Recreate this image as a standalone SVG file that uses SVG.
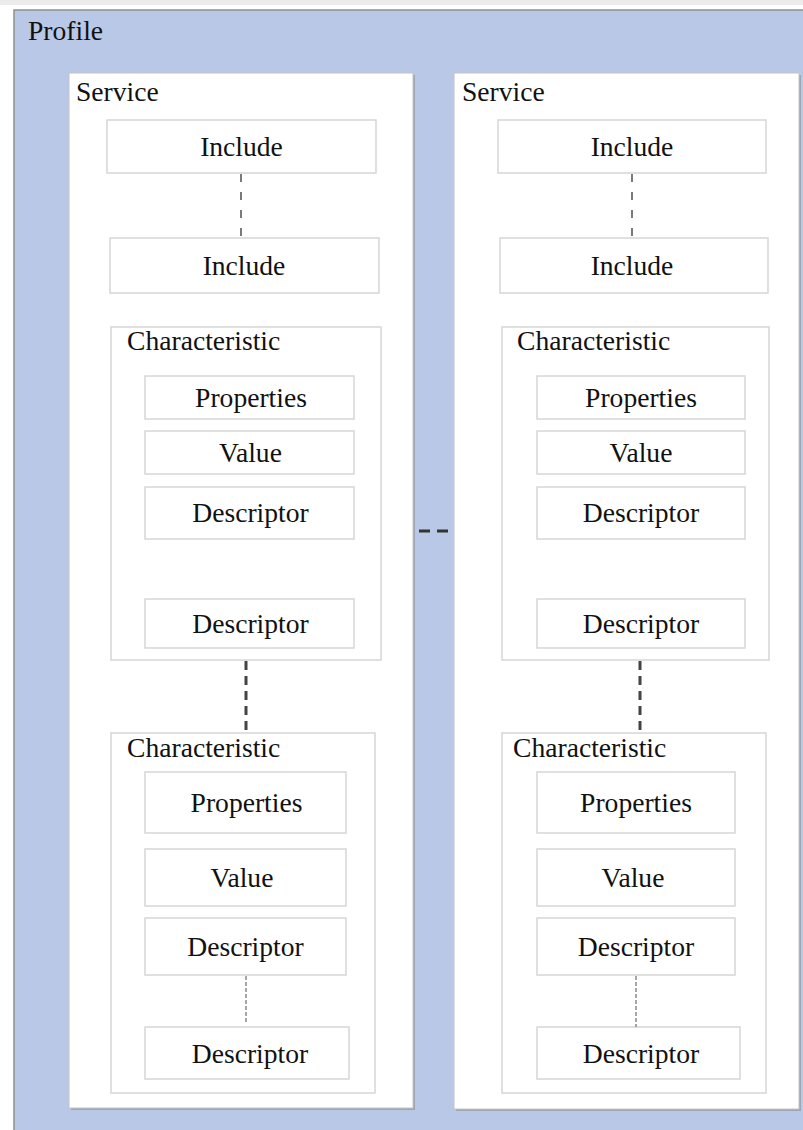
<svg xmlns="http://www.w3.org/2000/svg" width="803" height="1130" viewBox="0 0 803 1130">
  <style>
    text { font-size: 27.6px; fill: #111; }
    .c { text-anchor: middle; }
    .profile { fill: #b8c8e6; stroke: #8e8e8e; stroke-width: 1.5; }
    .svc { fill: #ffffff; stroke: #c4c4c4; stroke-width: 1; }
    .shadow { fill: #9ea6b4; }
    .box { fill: #ffffff; stroke: #d6d6d6; stroke-width: 1.5; }
    .inc { stroke: #7a7a7a; stroke-width: 2; stroke-dasharray: 8 10; fill: none; }
    .chr { stroke: #444; stroke-width: 3; stroke-dasharray: 9 6; fill: none; }
    .svcl { stroke: #333; stroke-width: 3; stroke-dasharray: 11 7; fill: none; }
    .dsc { stroke: #888; stroke-width: 1.5; stroke-dasharray: 4 2; fill: none; }
  </style>

  <rect x="0" y="0" width="803" height="1130" fill="#ffffff"/>
  <rect x="0" y="0" width="803" height="5" fill="#ececec"/>

  <g font-family="'Liberation Serif', 'Times New Roman', serif">
  <g id="profile">
    <rect class="profile" x="14" y="10" width="800" height="1130"/>
    <text x="28" y="40">Profile</text>
  </g>

  <!-- left service -->
  <g id="service-left">
    <rect class="shadow" x="71" y="75" width="344" height="1035"/>
    <rect class="svc" x="69" y="73" width="344" height="1035"/>
    <text x="76" y="101">Service</text>
  </g>
  <g id="include-left-1">
    <rect class="box" x="107" y="120" width="269" height="53"/>
    <text class="c" x="241.5" y="156">Include</text>
  </g>
  <g id="include-left-2">
    <rect class="box" x="110" y="238" width="269" height="55"/>
    <text class="c" x="244" y="275">Include</text>
  </g>
  <g id="char-left-1">
    <rect class="box" x="111" y="327" width="270" height="333"/>
    <text x="127" y="350">Characteristic</text>
  </g>
  <g id="prop-left-1">
    <rect class="box" x="145" y="376" width="209" height="43"/>
    <text class="c" x="251" y="406.5">Properties</text>
  </g>
  <g id="value-left-1">
    <rect class="box" x="145" y="431" width="209" height="43"/>
    <text class="c" x="250.5" y="462">Value</text>
  </g>
  <g id="desc-left-1a">
    <rect class="box" x="145" y="487" width="209" height="52"/>
    <text class="c" x="250.5" y="522">Descriptor</text>
  </g>
  <g id="desc-left-1b">
    <rect class="box" x="145" y="599" width="209" height="49"/>
    <text class="c" x="250.5" y="633">Descriptor</text>
  </g>
  <g id="char-left-2">
    <rect class="box" x="111" y="733" width="264" height="360"/>
    <text x="127" y="757">Characteristic</text>
  </g>
  <g id="prop-left-2">
    <rect class="box" x="145" y="772" width="201" height="61"/>
    <text class="c" x="246.5" y="811.5">Properties</text>
  </g>
  <g id="value-left-2">
    <rect class="box" x="145" y="849" width="201" height="57"/>
    <text class="c" x="242" y="886.5">Value</text>
  </g>
  <g id="desc-left-2a">
    <rect class="box" x="145" y="918" width="201" height="57"/>
    <text class="c" x="245.5" y="956">Descriptor</text>
  </g>
  <g id="desc-left-2b">
    <rect class="box" x="145" y="1027" width="204" height="52"/>
    <text class="c" x="250" y="1062.5">Descriptor</text>
  </g>

  <!-- right service -->
  <g id="service-right">
    <rect class="shadow" x="456" y="75" width="345" height="1036"/>
    <rect class="svc" x="454" y="73" width="345" height="1036"/>
    <text x="462" y="101">Service</text>
  </g>
  <g id="include-right-1">
    <rect class="box" x="498" y="120" width="268" height="53"/>
    <text class="c" x="632" y="156">Include</text>
  </g>
  <g id="include-right-2">
    <rect class="box" x="500" y="238" width="268" height="55"/>
    <text class="c" x="632" y="275">Include</text>
  </g>
  <g id="char-right-1">
    <rect class="box" x="502" y="327" width="267" height="333"/>
    <text x="517" y="350">Characteristic</text>
  </g>
  <g id="prop-right-1">
    <rect class="box" x="537" y="376" width="208" height="43"/>
    <text class="c" x="641" y="406.5">Properties</text>
  </g>
  <g id="value-right-1">
    <rect class="box" x="537" y="431" width="208" height="43"/>
    <text class="c" x="641" y="462">Value</text>
  </g>
  <g id="desc-right-1a">
    <rect class="box" x="537" y="487" width="208" height="52"/>
    <text class="c" x="641" y="522">Descriptor</text>
  </g>
  <g id="desc-right-1b">
    <rect class="box" x="537" y="599" width="208" height="49"/>
    <text class="c" x="641" y="633">Descriptor</text>
  </g>
  <g id="char-right-2">
    <rect class="box" x="502" y="733" width="264" height="360"/>
    <text x="513" y="757">Characteristic</text>
  </g>
  <g id="prop-right-2">
    <rect class="box" x="537" y="772" width="198" height="61"/>
    <text class="c" x="636" y="811.5">Properties</text>
  </g>
  <g id="value-right-2">
    <rect class="box" x="537" y="849" width="198" height="57"/>
    <text class="c" x="633" y="886.5">Value</text>
  </g>
  <g id="desc-right-2a">
    <rect class="box" x="537" y="918" width="198" height="57"/>
    <text class="c" x="636" y="956">Descriptor</text>
  </g>
  <g id="desc-right-2b">
    <rect class="box" x="537" y="1027" width="203" height="52"/>
    <text class="c" x="641" y="1062.5">Descriptor</text>
  </g>
  </g>

  <g id="connectors">
    <line class="inc" x1="241" y1="174" x2="241" y2="238"/>
    <line class="inc" x1="632" y1="174" x2="632" y2="238"/>
    <line class="chr" x1="246" y1="661" x2="246" y2="733"/>
    <line class="chr" x1="640" y1="661" x2="640" y2="733"/>
    <line class="dsc" x1="246" y1="976" x2="246" y2="1024"/>
    <line class="dsc" x1="636" y1="976" x2="636" y2="1027"/>
    <line class="svcl" x1="419" y1="531" x2="453" y2="531"/>
  </g>
</svg>
